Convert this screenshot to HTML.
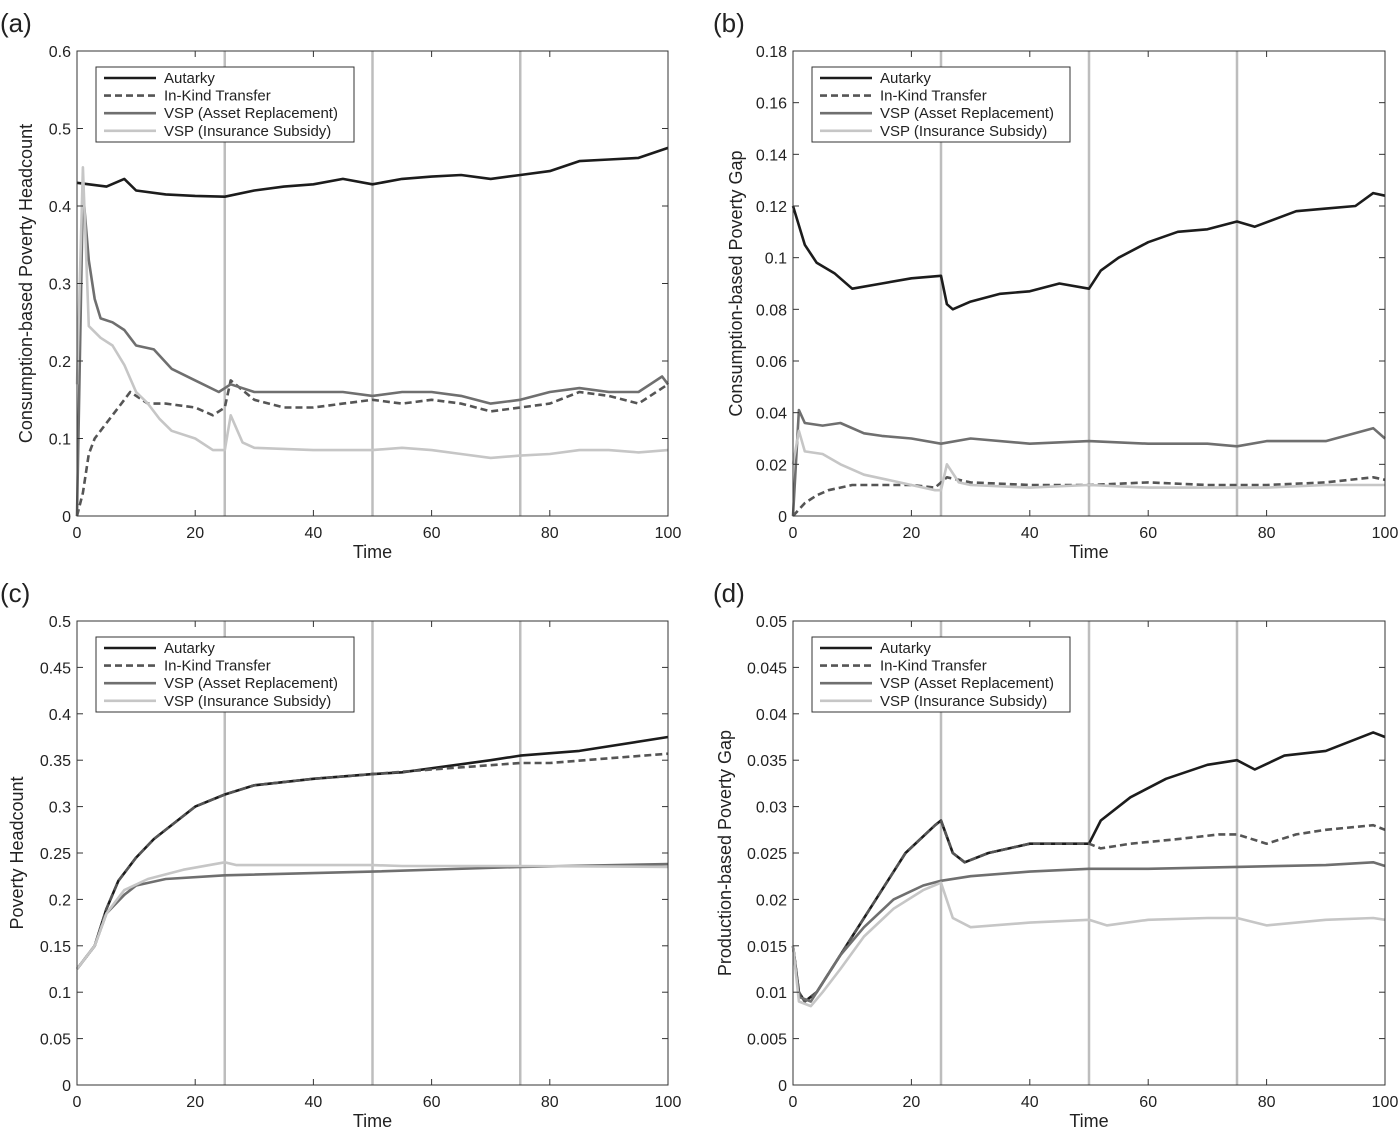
<!DOCTYPE html>
<html><head><meta charset="utf-8"><style>
body{margin:0;background:#fff;font-family:"Liberation Sans",sans-serif;}
svg text{font-family:"Liberation Sans",sans-serif;}
</style></head><body>
<svg id="fig" width="1400" height="1129" xmlns="http://www.w3.org/2000/svg"></svg>
<script>
const seriesNames=["Autarky","In-Kind Transfer","VSP (Asset Replacement)","VSP (Insurance Subsidy)"];
// panel a
const aAutT=[0,5,8,10,15,20,25,30,35,40,45,50,55,60,65,70,75,80,85,90,95,100];
const aAutV=[0.43,0.425,0.435,0.42,0.415,0.413,0.412,0.42,0.425,0.428,0.435,0.428,0.435,0.438,0.44,0.435,0.44,0.445,0.458,0.46,0.462,0.475];
const aKindT=[0,1,2,3,5,7,9,12,15,20,23,25,26,30,35,40,45,50,55,60,65,70,75,80,85,90,95,100];
const aKindV=[0,0.03,0.08,0.1,0.12,0.14,0.16,0.145,0.145,0.14,0.13,0.14,0.175,0.15,0.14,0.14,0.145,0.15,0.145,0.15,0.145,0.135,0.14,0.145,0.16,0.155,0.145,0.17];
const aAssetT=[0,1,2,3,4,6,8,10,13,16,20,24,26,30,35,40,45,50,55,60,65,70,75,80,85,90,95,99,100];
const aAssetV=[0,0.42,0.33,0.28,0.255,0.25,0.24,0.22,0.215,0.19,0.175,0.16,0.17,0.16,0.16,0.16,0.16,0.155,0.16,0.16,0.155,0.145,0.15,0.16,0.165,0.16,0.16,0.18,0.17];
const aInsT=[0,1,2,4,6,8,10,12,14,16,20,23,25,26,28,30,40,50,55,60,65,70,75,80,85,90,95,100];
const aInsV=[0.17,0.45,0.245,0.23,0.22,0.195,0.16,0.145,0.125,0.11,0.1,0.085,0.085,0.13,0.095,0.088,0.085,0.085,0.088,0.085,0.08,0.075,0.078,0.08,0.085,0.085,0.082,0.085];
// panel b
const bAutT=[0,2,4,7,10,15,20,25,26,27,30,35,40,45,50,52,55,60,65,70,75,78,85,90,95,98,100];
const bAutV=[0.12,0.105,0.098,0.094,0.088,0.09,0.092,0.093,0.082,0.08,0.083,0.086,0.087,0.09,0.088,0.095,0.1,0.106,0.11,0.111,0.114,0.112,0.118,0.119,0.12,0.125,0.124];
const bKindT=[0,2,4,6,10,20,24,26,30,40,50,60,70,80,90,98,100];
const bKindV=[0,0.005,0.008,0.01,0.012,0.012,0.011,0.015,0.013,0.012,0.012,0.013,0.012,0.012,0.013,0.015,0.014];
const bAssetT=[0,1,2,5,8,12,15,20,25,30,40,50,60,70,75,80,90,98,100];
const bAssetV=[0,0.041,0.036,0.035,0.036,0.032,0.031,0.03,0.028,0.03,0.028,0.029,0.028,0.028,0.027,0.029,0.029,0.034,0.03];
const bInsT=[0,1,2,5,8,12,16,20,24,25,26,28,30,40,50,60,70,80,90,100];
const bInsV=[0.02,0.033,0.025,0.024,0.02,0.016,0.014,0.012,0.01,0.01,0.02,0.013,0.012,0.011,0.012,0.011,0.011,0.011,0.012,0.012];
// panel c
const cAutT=[0,3,5,7,10,13,17,20,25,30,40,50,55,70,75,85,100];
const cAutV=[0.125,0.15,0.19,0.22,0.245,0.265,0.285,0.3,0.313,0.323,0.33,0.335,0.337,0.35,0.355,0.36,0.375];
const cKindT=[0,3,5,7,10,13,17,20,25,30,40,50,60,75,80,90,100];
const cKindV=[0.125,0.15,0.19,0.22,0.245,0.265,0.285,0.3,0.313,0.323,0.33,0.335,0.34,0.347,0.347,0.352,0.357];
const cAssetT=[0,3,5,8,10,15,25,50,75,100];
const cAssetV=[0.125,0.15,0.185,0.205,0.215,0.222,0.226,0.23,0.235,0.238];
const cInsT=[0,3,5,8,12,18,25,27,50,55,75,100];
const cInsV=[0.125,0.15,0.185,0.21,0.222,0.232,0.24,0.237,0.237,0.236,0.236,0.235];
// panel d
const dAutT=[0,1,2,4,7,10,14,19,24,25,27,29,33,40,50,52,57,63,70,75,78,83,90,98,100];
const dAutV=[0.015,0.01,0.009,0.01,0.013,0.016,0.02,0.025,0.028,0.0285,0.025,0.024,0.025,0.026,0.026,0.0285,0.031,0.033,0.0345,0.035,0.034,0.0355,0.036,0.038,0.0375];
const dKindT=[0,1,2,4,7,10,14,19,24,25,27,29,33,40,50,52,57,65,72,75,80,85,90,98,100];
const dKindV=[0.015,0.01,0.009,0.01,0.013,0.016,0.02,0.025,0.028,0.0285,0.025,0.024,0.025,0.026,0.026,0.0255,0.026,0.0265,0.027,0.027,0.026,0.027,0.0275,0.028,0.0275];
const dAssetT=[0,1,3,5,8,12,17,22,25,30,40,50,60,75,90,98,100];
const dAssetV=[0.015,0.0095,0.009,0.011,0.014,0.017,0.02,0.0215,0.022,0.0225,0.023,0.0233,0.0233,0.0235,0.0237,0.024,0.0236];
const dInsT=[0,1,3,5,8,12,17,22,25,27,30,40,50,53,60,70,75,80,90,98,100];
const dInsV=[0.015,0.009,0.0085,0.01,0.0125,0.016,0.019,0.021,0.0218,0.018,0.017,0.0175,0.0178,0.0172,0.0178,0.018,0.018,0.0172,0.0178,0.018,0.0178];
const xTicks=[0,20,40,60,80,100];
const vLines=[25,50,75];

const NS="http://www.w3.org/2000/svg";
const svg=document.getElementById('fig');
function mk(tag,attrs,parent){const e=document.createElementNS(NS,tag);for(const k in attrs)e.setAttribute(k,attrs[k]);(parent||svg).appendChild(e);return e;}
const styles=[{c:"#1c1c1c",d:""},{c:"#555",d:"7,4"},{c:"#6f6f6f",d:""},{c:"#c6c6c6",d:""}];
const panels=[
 {id:"a",x0:77,x1:668,y0:516,y1:51,ymax:0.6,yt:[0,0.1,0.2,0.3,0.4,0.5,0.6],lab:"Consumption-based Poverty Headcount",lx:27,series:[[aAutT,aAutV],[aKindT,aKindV],[aAssetT,aAssetV],[aInsT,aInsV]],leg:[96,67],tl:[0,22]},
 {id:"b",x0:793,x1:1385,y0:516,y1:51,ymax:0.18,yt:[0,0.02,0.04,0.06,0.08,0.1,0.12,0.14,0.16,0.18],lab:"Consumption-based Poverty Gap",lx:737,series:[[bAutT,bAutV],[bKindT,bKindV],[bAssetT,bAssetV],[bInsT,bInsV]],leg:[812,67],tl:[713,22]},
 {id:"c",x0:77,x1:668,y0:1085,y1:621,ymax:0.5,yt:[0,0.05,0.1,0.15,0.2,0.25,0.3,0.35,0.4,0.45,0.5],lab:"Poverty Headcount",lx:18,series:[[cAutT,cAutV],[cKindT,cKindV],[cAssetT,cAssetV],[cInsT,cInsV]],leg:[96,637],tl:[0,592]},
 {id:"d",x0:793,x1:1385,y0:1085,y1:621,ymax:0.05,yt:[0,0.005,0.01,0.015,0.02,0.025,0.03,0.035,0.04,0.045,0.05],lab:"Production-based Poverty Gap",lx:726,series:[[dAutT,dAutV],[dKindT,dKindV],[dAssetT,dAssetV],[dInsT,dInsV]],leg:[812,637],tl:[713,592]}
];
panels.forEach(p=>{
 const g=mk('g',{});
 
 
 const X=t=>p.x0+(p.x1-p.x0)*t/100;
 const Y=v=>p.y0+(p.y1-p.y0)*v/p.ymax;
 const tl=mk('text',{x:p.tl[0],y:p.tl[1]+10,'font-size':26,fill:'#222'},g);tl.textContent='('+p.id+')';
 
 
 vLines.forEach(t=>{const l=mk('line',{x1:X(t),x2:X(t),y1:p.y0,y2:p.y1,stroke:'#bdbdbd','stroke-width':2.5},g);
  
  });
 p.series.forEach((s,i)=>{
  const pts=s[0].map((t,k)=>X(t).toFixed(1)+','+Y(s[1][k]).toFixed(1)).join(' ');
  const pl=mk('polyline',{points:pts,fill:'none',stroke:styles[i].c,'stroke-width':2.6,'stroke-dasharray':styles[i].d,'stroke-linejoin':'round'},g);
  
  
 });
 const box=mk('rect',{x:p.x0,y:p.y1,width:p.x1-p.x0,height:p.y0-p.y1,fill:'none',stroke:'#333','stroke-width':1},g);
 
 
 p.yt.forEach(v=>{
  mk('line',{x1:p.x0,x2:p.x0+6,y1:Y(v),y2:Y(v),stroke:'#333'},g);
  mk('line',{x1:p.x1,x2:p.x1-6,y1:Y(v),y2:Y(v),stroke:'#333'},g);
  const t=mk('text',{x:p.x0-6,y:Y(v)+6,'text-anchor':'end','font-size':16,fill:'#222'},g);t.textContent=String(v);
  
  
 });
 xTicks.forEach(v=>{
  mk('line',{x1:X(v),x2:X(v),y1:p.y0,y2:p.y0-6,stroke:'#333'},g);
  mk('line',{x1:X(v),x2:X(v),y1:p.y1,y2:p.y1+6,stroke:'#333'},g);
  const t=mk('text',{x:X(v),y:p.y0+22,'text-anchor':'middle','font-size':16,fill:'#222'},g);t.textContent=String(v);
  
  
 });
 const xl=mk('text',{x:(p.x0+p.x1)/2,y:p.y0+42,'text-anchor':'middle','font-size':18,fill:'#222'},g);xl.textContent='Time';
 
 
 const cy=(p.y0+p.y1)/2;
 const yl=mk('text',{x:p.lx,y:cy,'text-anchor':'middle','font-size':18,fill:'#222',transform:`rotate(-90 ${p.lx} ${cy})`,'dominant-baseline':'middle'},g);yl.textContent=p.lab;
 
 
 const lg=mk('g',{},g);
 
 
 mk('rect',{x:p.leg[0],y:p.leg[1],width:258,height:75,fill:'#fff',stroke:'#333','stroke-width':1},lg);
 seriesNames.forEach((n,i)=>{
  const yy=p.leg[1]+11+i*17.6;
  mk('line',{x1:p.leg[0]+8,x2:p.leg[0]+60,y1:yy,y2:yy,stroke:styles[i].c,'stroke-width':2.6,'stroke-dasharray':styles[i].d},lg);
  const t=mk('text',{x:p.leg[0]+68,y:yy+5,'font-size':15,fill:'#222'},lg);t.textContent=n;
  
  
 });
});
</script>
</body></html>
